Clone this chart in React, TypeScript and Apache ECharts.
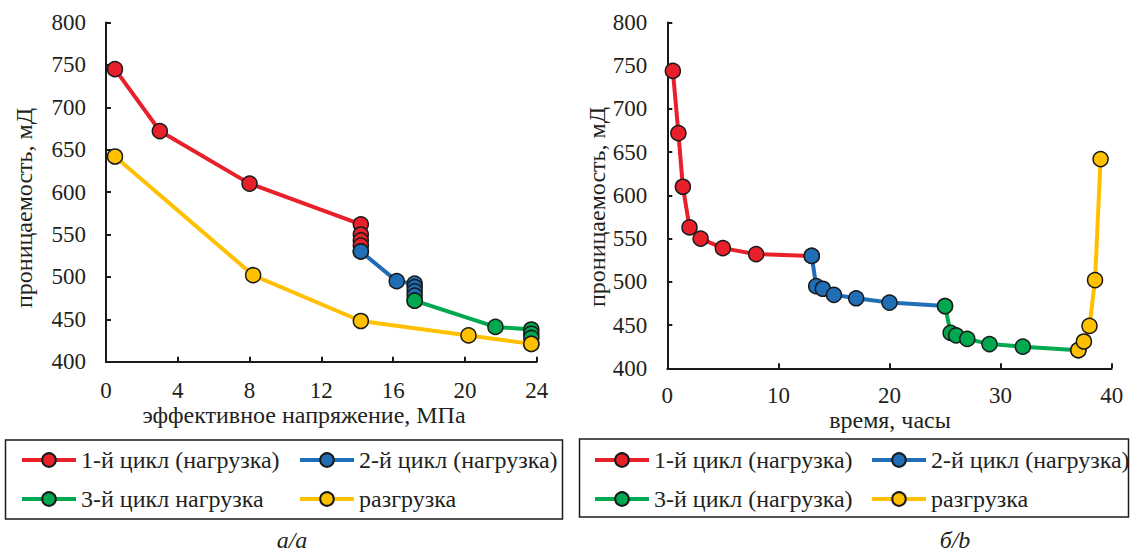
import React, { useEffect, useRef } from "react";
import * as echarts from "echarts";

// ---- Data: chart a (effective stress, MPa) ----
const stressRed = [0.5, 3.0, 8.0, 14.2, 14.2, 14.2, 14.2, 14.2];
const permRedA = [745, 672, 610, 562, 550, 543, 537, 530];
const stressBlue = [14.2, 16.2, 17.2, 17.2, 17.2, 17.2, 17.2];
const permBlueA = [530, 495, 492, 488, 483, 478, 472];
const stressGreen = [17.2, 21.7, 23.7, 23.7, 23.7, 23.7];
const permGreenA = [472, 441, 438, 433, 428, 421];
const stressYellow = [23.7, 20.2, 14.2, 8.2, 0.5];
const permYellowA = [421, 431, 448, 502, 642];

// ---- Data: chart b (time, hours) ----
const timeRed = [0.5, 1.0, 1.4, 2.0, 3.0, 5.0, 8.0, 13.0];
const permRedB = [744, 672, 610, 563, 550, 539, 532, 530];
const timeBlue = [13.0, 13.4, 14.0, 15.0, 17.0, 20.0, 25.0];
const permBlueB = [530, 495, 492, 485, 481, 476, 472];
const timeGreen = [25.0, 25.5, 26.0, 27.0, 29.0, 32.0, 37.0];
const permGreenB = [472, 441, 438, 434, 428, 425, 421];
const timeYellow = [37.0, 37.5, 38.0, 38.5, 39.0];
const permYellowB = [421, 431, 449, 502, 642];

const namesA = ["1-й цикл (нагрузка)", "2-й цикл (нагрузка)", "3-й цикл нагрузка", "разгрузка"];
const namesB = ["1-й цикл (нагрузка)", "2-й цикл (нагрузка)", "3-й цикл (нагрузка)", "разгрузка"];

const yTicks = { min: 400, max: 800, interval: 50 };
const xTicksA = { min: 0, max: 24, interval: 4 };
const xTicksB = { min: 0, max: 40, interval: 10 };

const COLORS = ["#E8202A", "#1F6EB6", "#00A84F", "#FFC000"];
const FONT = "'Liberation Serif', 'Times New Roman', serif";
const TEXT = "#231f20";

const zip = (xs: number[], ys: number[]) => xs.map((x, i) => [x, ys[i]]);

export default function App() {
  const ref = useRef<HTMLDivElement>(null);
  useEffect(() => {
    document.body.style.margin = "0";
    if (!ref.current) return;
    const chart = echarts.init(ref.current, undefined, { renderer: "svg" });

    const axisCommon = {
      axisLine: { show: true, onZero: false, lineStyle: { color: "#1a1a1a", width: 2 } },
      axisTick: { show: true, inside: true, length: 5, lineStyle: { color: "#1a1a1a", width: 2 } },
      splitLine: { show: false },
      axisLabel: { fontFamily: FONT, fontSize: 23, color: TEXT },
    };

    const mkSeries = (name: string, data: number[][], ci: number, gi: number) => ({
      type: "line",
      name,
      data,
      xAxisIndex: gi,
      yAxisIndex: gi,
      symbol: "circle",
      symbolSize: 15,
      lineStyle: { color: COLORS[ci], width: 4 },
      itemStyle: { color: COLORS[ci], borderColor: "#1a1a1a", borderWidth: 1.5 },
      z: 2 + ci,
    });

    const legendItem = (name: string, left: number, top: number) => ({
      data: [name],
      left,
      top,
      padding: 0,
      itemWidth: 54,
      itemHeight: 17,
      selectedMode: false,
      lineStyle: { width: 4 },
      textStyle: { fontFamily: FONT, fontSize: 24, color: TEXT },
    });

    const row1 = 448;
    const row2 = 487;

    chart.setOption({
      animation: false,
      grid: [
        { left: 106, top: 22.5, width: 430.7, height: 339.2 },
        { left: 667.3, top: 22.5, width: 444.4, height: 345.8 },
      ],
      xAxis: [
        { type: "value", gridIndex: 0, ...xTicksA, ...axisCommon, axisLabel: { ...axisCommon.axisLabel, margin: 17 } },
        { type: "value", gridIndex: 1, ...xTicksB, ...axisCommon, axisLabel: { ...axisCommon.axisLabel, margin: 16 } },
      ],
      yAxis: [
        { type: "value", gridIndex: 0, ...yTicks, ...axisCommon, axisLabel: { ...axisCommon.axisLabel, margin: 20 } },
        { type: "value", gridIndex: 1, ...yTicks, ...axisCommon, axisLabel: { ...axisCommon.axisLabel, margin: 20 } },
      ],
      legend: [
        legendItem(namesA[0], 20, row1),
        legendItem(namesA[1], 298, row1),
        legendItem(namesA[2], 20, row2),
        legendItem(namesA[3], 298, row2),
        legendItem(namesB[0], 593, row1),
        legendItem(namesB[1], 870, row1),
        legendItem(namesB[2], 593, row2),
        legendItem(namesB[3], 870, row2),
      ],
      graphic: [
        { type: "rect", shape: { x: 5.5, y: 440, width: 557, height: 79 }, style: { fill: "none", stroke: "#1a1a1a", lineWidth: 1.5 } },
        { type: "rect", shape: { x: 579.5, y: 439, width: 549, height: 78 }, style: { fill: "none", stroke: "#1a1a1a", lineWidth: 1.5 } },
        { type: "text", x: 24, y: 208, rotation: Math.PI / 2, style: { text: "проницаемость, мД", font: `24px ${FONT}`, fill: TEXT, align: "center", verticalAlign: "middle" } },
        { type: "text", x: 597, y: 207, rotation: Math.PI / 2, style: { text: "проницаемость, мД", font: `24px ${FONT}`, fill: TEXT, align: "center", verticalAlign: "middle" } },
        { type: "text", x: 304, y: 415, style: { text: "эффективное напряжение, МПа", font: `24px ${FONT}`, fill: TEXT, align: "center", verticalAlign: "middle" } },
        { type: "text", x: 890, y: 420, style: { text: "время, часы", font: `24px ${FONT}`, fill: TEXT, align: "center", verticalAlign: "middle" } },
        { type: "text", x: 292, y: 540, style: { text: "а/a", font: `italic 24px ${FONT}`, fill: TEXT, align: "center", verticalAlign: "middle" } },
        { type: "text", x: 955, y: 540, style: { text: "б/b", font: `italic 24px ${FONT}`, fill: TEXT, align: "center", verticalAlign: "middle" } },
      ],
      series: [
        mkSeries(namesA[0], zip(stressRed, permRedA), 0, 0),
        mkSeries(namesA[1], zip(stressBlue, permBlueA), 1, 0),
        mkSeries(namesA[2], zip(stressGreen, permGreenA), 2, 0),
        mkSeries(namesA[3], zip(stressYellow, permYellowA), 3, 0),
        mkSeries(namesB[0], zip(timeRed, permRedB), 0, 1),
        mkSeries(namesB[1], zip(timeBlue, permBlueB), 1, 1),
        mkSeries(namesB[2], zip(timeGreen, permGreenB), 2, 1),
        mkSeries(namesB[3], zip(timeYellow, permYellowB), 3, 1),
      ],
    });
    return () => chart.dispose();
  }, []);
  return <div ref={ref} style={{ width: 1132, height: 552 }} />;
}
